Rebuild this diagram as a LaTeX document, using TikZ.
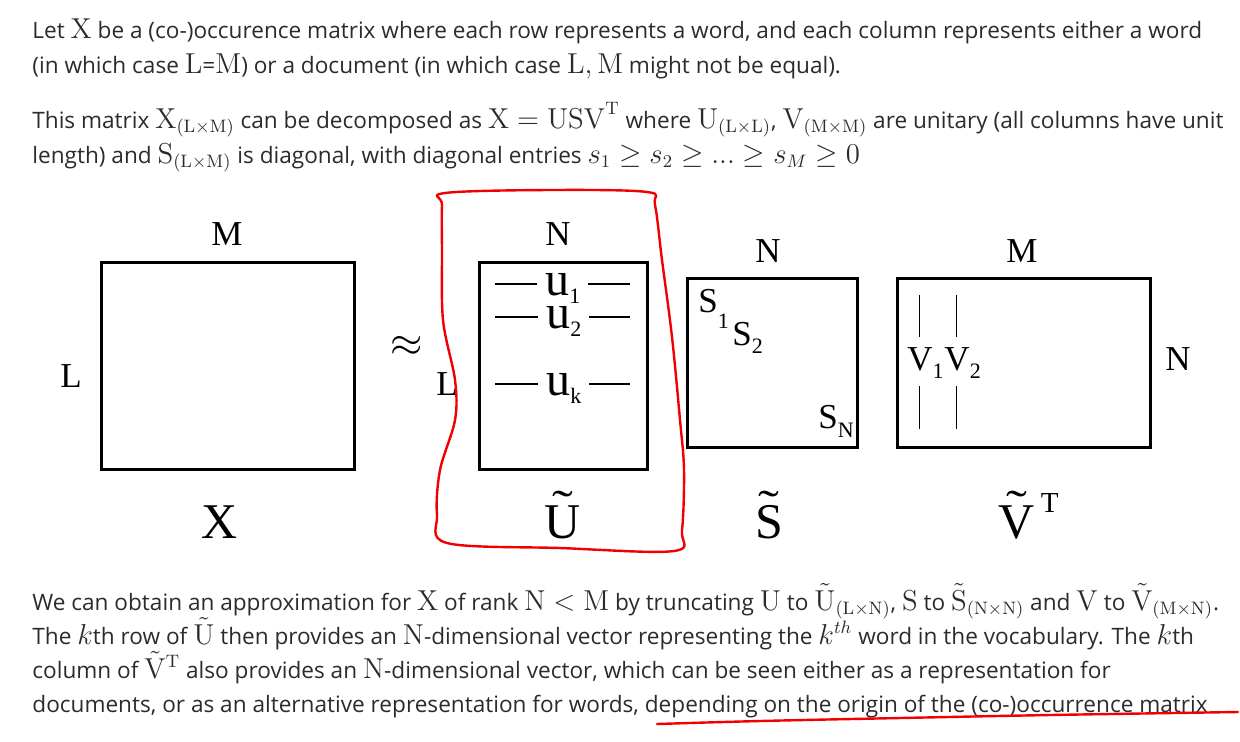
\documentclass[tikz,border=0pt]{standalone}
\usepackage{amsmath,amssymb}
\usepackage[no-math]{fontspec}
\setmainfont{Open Sans}
\newfontfamily\figfont{Liberation Serif}
\usetikzlibrary{positioning,calc}
\definecolor{bodytext}{HTML}{2B2B2B}
\definecolor{penred}{HTML}{F20000}
\DeclareMathSizes{11.3}{13.55}{9.5}{7.5}

\newcommand{\dn}[2]{\raisebox{-#1pt}{\fontsize{11}{11}\selectfont #2}}
\newcommand{\hitilde}[1]{\ooalign{#1\cr\hidewidth\raisebox{8.5pt}{\scalebox{1.25}[0.9]{˜}}\hidewidth\cr}}

\tikzset{
  para/.style={anchor=base west, inner sep=0pt, text=bodytext, font=\fontsize{11.3}{13}\selectfont},
  dim/.style={anchor=base, inner sep=0pt, font=\figfont\fontsize{17.5}{20}\selectfont},
  entry/.style={anchor=base west, inner sep=0pt, font=\figfont\fontsize{17.5}{20}\selectfont},
  matname/.style={anchor=base, inner sep=0pt, font=\figfont\fontsize{25}{28}\selectfont},
  matbox/.style={line width=1.5pt},
  rowline/.style={line width=0.7pt},
  pen/.style={penred, line width=1.2pt, line cap=round, line join=round}
}

\begin{document}
\begin{tikzpicture}[x=0.5pt, y=-0.5pt]
  \useasboundingbox (0,0) rectangle (1240,741);

  % Text above
  \node[para] (top1) at (32,38) {Let $\mathrm{X}$ be a (co-)occurence matrix where each row represents a word, and each column represents either a word};
  \node[para] (top2) at (32,73) {(in which case $\mathrm{L}$=$\mathrm{M}$) or a document (in which case $\mathrm{L}, \mathrm{M}$ might not be equal).};
  \node[para] (top3) at (32,128) {This matrix $\mathrm{X}_{(\mathrm{L}\times\mathrm{M})}$ can be decomposed as $\mathrm{X} = \mathrm{USV}^{\mathrm{T}}$ where $\mathrm{U}_{(\mathrm{L}\times\mathrm{L})}$, $\mathrm{V}_{(\mathrm{M}\times\mathrm{M})}$ are unitary (all columns have unit};
  \node[para] (top4) at (32,163) {length) and $\mathrm{S}_{(\mathrm{L}\times\mathrm{M})}$ is diagonal, with diagonal entries $s_1 \geq s_2 \geq ... \geq s_M \geq 0$};

  % X
  \draw[matbox] (101,262) rectangle (354,469);
  \node[dim] (xM) at (227,245) {M};
  \node[dim] (xL) at (71,387) {L};
  \node[matname] (xname) at (220,538) {X};
  \node[inner sep=0pt, font=\fontsize{20.5}{24}\selectfont] (approx) at (407,346) {$\approx$};

  % U
  \draw[matbox] (479,262) rectangle (647,469);
  \node[dim] (uN) at (558,245) {N};
  \node[dim] (uL) at (447,395) {L};
  \node[entry, font=\figfont\fontsize{24}{26}\selectfont] (u1) at (545,295) {u\dn{4}{1}};
  \node[entry, font=\figfont\fontsize{24}{26}\selectfont] (u2) at (546,328) {u\dn{4}{2}};
  \node[entry, font=\figfont\fontsize{24}{26}\selectfont] (uk) at (546,395) {u\dn{4}{k}};
  \coordinate (uleft) at (495,0);
  \coordinate (uright) at (630,0);
  \foreach \r in {u1,u2,uk} {
    \coordinate (\r-mid) at ([yshift=5.5pt]\r.base west);
    \draw[rowline] (\r-mid -| uleft) -- ([xshift=-4pt]\r-mid);
    \draw[rowline] ([xshift=3.5pt]\r-mid -| \r.east) -- (\r-mid -| uright);
  }
  \node[matname] (uname) at (563,538) {\hitilde{U}};

  % S
  \draw[matbox] (687,278) rectangle (857,447);
  \node[dim] (sN) at (768,262) {N};
  \node[entry] (s1) at (698,312) {S\dn{8}{1}};
  \node[entry] (s2) at (732,345) {S\dn{4}{2}};
  \node[entry] (sn) at (818,428) {S\dn{4.5}{N}};
  \node[matname] (sname) at (769,538) {\hitilde{S}};

  % V transpose
  \draw[matbox] (897,278) rectangle (1150,447);
  \node[dim] (vM) at (1022,262) {M};
  \node[dim] (vN) at (1178,370) {N};
  \node[entry] (v1) at (907,370) {V\dn{4}{1}};
  \node[entry] (v2) at (v1.base east) {V\dn{4}{2}};
  \foreach \c in {v1,v2} {
    \draw[rowline] ([xshift=6.3pt,yshift=16.5pt]\c.base west) -- ++(0,-42);
    \draw[rowline] ([xshift=6.3pt,yshift=-8pt]\c.base west) -- ++(0,43);
  }
  \node[matname] (vname) at (1017,538) {\hitilde{V}};
  \node[anchor=base west, inner sep=0pt, font=\figfont\fontsize{14.5}{16}\selectfont] (vT) at ([xshift=2.5pt,yshift=13pt]vname.base east) {T};

  % red pen marks
  \draw[pen] plot[smooth cycle, tension=0.55] coordinates {(445,193) (550,190) (647,192) (655,205) (662,260) (672,337) (680,420) (684,470) (682,530) (674,551) (560,548) (447,543) (437,515) (440,470) (455,420) (455,380) (443,320) (442,250) (442,205)};

  % Text below
  \node[para] (bot1) at (32,610) {We can obtain an approximation for $\mathrm{X}$ of rank $\mathrm{N} < \mathrm{M}$ by truncating $\mathrm{U}$ to $\tilde{\mathrm{U}}_{(\mathrm{L}\times\mathrm{N})}$, $\mathrm{S}$ to $\tilde{\mathrm{S}}_{(\mathrm{N}\times\mathrm{N})}$ and $\mathrm{V}$ to $\tilde{\mathrm{V}}_{(\mathrm{M}\times\mathrm{N})}$.};
  \node[para] (bot2) at (32,644) {The $k$th row of $\tilde{\mathrm{U}}$ then provides an $\mathrm{N}$-dimensional vector representing the $k^{th}$ word in the vocabulary. The $k$th};
  \node[para] (bot3) at (32,678) {column of $\tilde{\mathrm{V}}^{\mathrm{T}}$ also provides an $\mathrm{N}$-dimensional vector, which can be seen either as a representation for};
  \node[para] (bot4) at (32,712) {documents, or as an alternative representation for words, depending on the origin of the (co-)occurrence matrix};
  \draw[pen] plot[smooth, tension=0.6] coordinates {(657,724) (760,721) (900,718) (1050,715) (1238,712)};
\end{tikzpicture}
\end{document}
